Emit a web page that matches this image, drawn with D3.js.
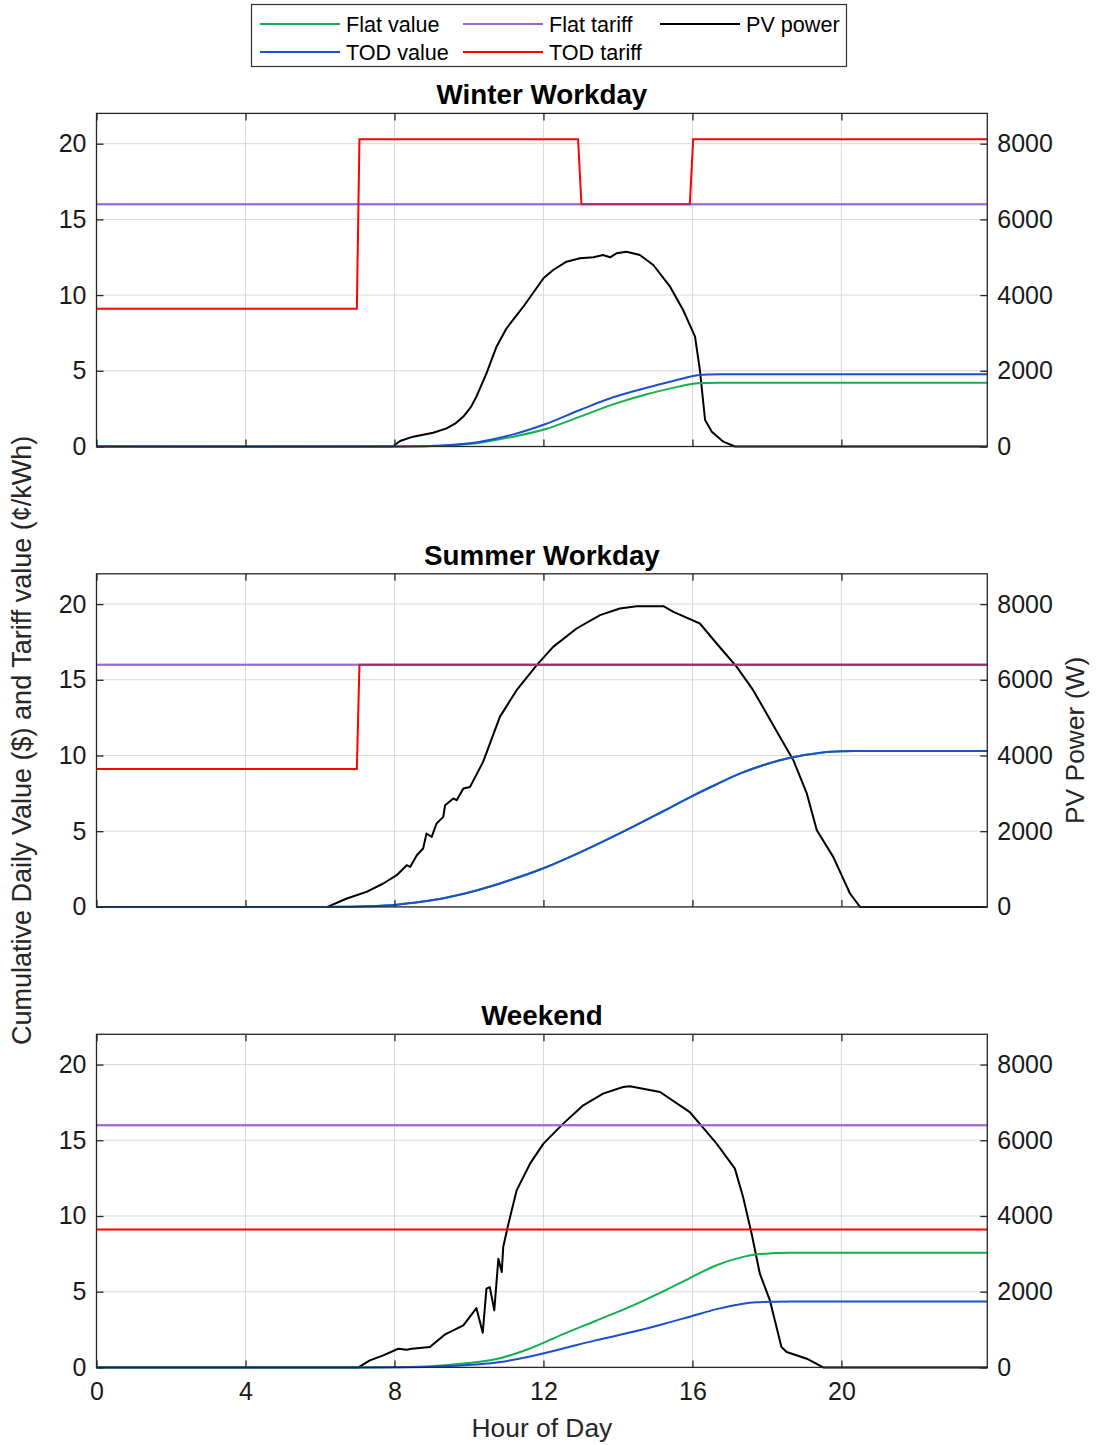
<!DOCTYPE html>
<html>
<head>
<meta charset="utf-8">
<script src="https://cdn.jsdelivr.net/npm/d3@7"></script>
<style>
  html, body { margin: 0; padding: 0; background: #fff; }
  svg { display: block; font-family: "Liberation Sans", Arial, Helvetica, sans-serif; }
</style>
</head>
<body>
<svg id="chart" width="1097" height="1445"></svg>
<script>
// ---- data: hour of day vs. value ----
const xTicks = [0, 4, 8, 12, 16, 20];
const yTicks = [0, 5, 10, 15, 20];
const pvTicks = [0, 2000, 4000, 6000, 8000];
const panelTitles = ["Winter Workday", "Summer Workday", "Weekend"];
const dayEnd = 23.917;

// flat tariff (¢/kWh), same every day type
const flatTariff = [[0, 16], [23.917, 16]];

// Winter workday
const winterPV = [[0,0],[7.95,0],[8.15,145],[8.5,260],[9.04,365],[9.4,480],[9.65,620],[9.85,790],[10.05,1040],
  [10.2,1315],[10.47,1934],[10.74,2636],[11.01,3123],[11.46,3693],[12.0,4444],[12.26,4663],[12.62,4883],
  [12.98,4972],[13.34,4998],[13.6,5059],[13.79,4998],[13.96,5104],[14.23,5147],[14.59,5059],[14.95,4795],
  [15.4,4222],[15.75,3606],[16.07,2901],[16.2,2021],[16.34,700],[16.52,391],[16.83,127],[17.14,0],[23.917,0]];
const winterFlatValue = [[0,0],[8,0],[9,0.03],[9.5,0.08],[10.3,0.25],[11.19,0.65],[12.04,1.14],[12.98,1.97],
  [13.87,2.78],[14.77,3.45],[15.66,3.97],[16.02,4.15],[16.4,4.2],[17,4.21],[23.917,4.21]];
const winterTodValue = [[0,0],[8,0],[9,0.04],[9.5,0.1],[10.3,0.32],[11.19,0.8],[12.04,1.47],[12.98,2.41],
  [13.87,3.25],[14.77,3.88],[15.66,4.44],[16.02,4.66],[16.4,4.75],[17,4.77],[23.917,4.77]];
const winterTodTariff = [[0,9.1],[6.99,9.1],[7.06,20.3],[12.93,20.3],[13.02,16],[15.93,16],[16.02,20.3],[23.917,20.3]];

// Summer workday
const summerPV = [[0,0],[6.2,0],[6.72,222],[7.25,396],[7.7,618],[8.06,838],[8.33,1102],[8.42,1057],[8.6,1366],
  [8.77,1543],[8.86,1939],[9.0,1850],[9.13,2203],[9.31,2378],[9.36,2687],[9.58,2864],[9.67,2819],[9.85,3128],
  [10.03,3170],[10.38,3831],[10.83,5020],[11.28,5725],[11.82,6386],[12.26,6869],[12.89,7355],[13.52,7707],
  [14.05,7883],[14.5,7944],[15.22,7944],[15.49,7794],[16.2,7487],[16.65,6959],[17.19,6341],[17.63,5725],
  [17.99,5110],[18.35,4491],[18.71,3876],[19.07,2996],[19.34,2026],[19.78,1321],[20.23,354],[20.5,0],[23.917,0]];
const summerFlatValue = [[0,0],[6.2,0],[6.7,0.01],[7.25,0.04],[8.06,0.15],[9.04,0.45],[9.94,0.92],[10.83,1.55],
  [12.0,2.55],[13.07,3.7],[14.41,5.3],[15.2,6.3],[16.02,7.35],[16.65,8.1],[17.27,8.8],[18.0,9.44],[18.6,9.84],
  [19.5,10.2],[20.05,10.28],[20.5,10.29],[23.917,10.29]];
const summerTodValue = [[0,0],[6.2,0],[6.7,0.01],[7.25,0.04],[8.06,0.15],[9.04,0.45],[9.94,0.92],[10.83,1.55],
  [12.0,2.55],[13.07,3.7],[14.41,5.3],[15.2,6.3],[16.02,7.35],[16.65,8.1],[17.27,8.8],[18.0,9.44],[18.6,9.84],
  [19.5,10.2],[20.05,10.28],[20.5,10.29],[23.917,10.29]];
const summerTodTariff = [[0,9.1],[6.99,9.1],[7.06,16],[23.917,16]];

// Weekend
const weekendPV = [[0,0],[7.03,0],[7.34,185],[7.7,317],[8.1,493],[8.33,467],[8.46,493],[8.95,537],[9.36,872],
  [9.85,1110],[10.2,1567],[10.37,916],[10.47,2079],[10.56,2122],[10.68,1506],[10.79,2872],[10.88,2518],
  [10.92,3179],[11.06,3797],[11.28,4677],[11.64,5382],[12.0,5911],[12.53,6440],[13.07,6924],[13.6,7233],
  [14.14,7409],[14.32,7425],[15.13,7275],[15.93,6746],[16.65,5911],[17.14,5251],[17.36,4500],[17.59,3532],
  [17.81,2476],[18.08,1770],[18.39,537],[18.53,405],[19.07,229],[19.51,0],[23.917,0]];
const weekendFlatValue = [[0,0],[7.5,0],[8.06,0.01],[9,0.08],[9.85,0.25],[10.74,0.55],[11.64,1.25],[12.53,2.2],
  [13.43,3.1],[14.41,4.1],[15.2,5.0],[15.93,5.9],[16.65,6.75],[17.36,7.3],[17.71,7.45],[18.25,7.55],[18.8,7.57],[23.917,7.57]];
const weekendTodValue = [[0,0],[7.03,0],[8.06,0.01],[9,0.05],[9.85,0.14],[10.74,0.32],[11.64,0.72],[12.53,1.25],
  [13.43,1.8],[14.41,2.35],[15.2,2.85],[15.93,3.35],[16.65,3.85],[17.36,4.2],[17.71,4.3],[18.25,4.34],[18.8,4.35],[23.917,4.35]];
const weekendTodTariff = [[0,9.1],[23.917,9.1]];

const panels = [
  { title: panelTitles[0], pv: winterPV, flatValue: winterFlatValue, todValue: winterTodValue, todTariff: winterTodTariff },
  { title: panelTitles[1], pv: summerPV, flatValue: summerFlatValue, todValue: summerTodValue, todTariff: summerTodTariff },
  { title: panelTitles[2], pv: weekendPV, flatValue: weekendFlatValue, todValue: weekendTodValue, todTariff: weekendTodTariff }
];

const colors = {
  flatValue: "#12b04e",
  todValue: "#1b4fcf",
  flatTariff: "#9a66d8",
  todTariff: "#ff0000",
  pv: "#000000"
};

// ---- layout ----
const svg = d3.select("#chart");
const left = 96.5, right = 987.3;
const panelTops = [113.4, 573.8, 1034.3];
const panelH = 333.1;
const tickFont = 25, titleFont = 27.8, labelFont = 26.4, yLabelFont = 27, legendFont = 21.6;
const axisColor = "#262626";

const x = d3.scaleLinear().domain([0, dayEnd]).range([left, right]);

panels.forEach((p, i) => {
  const top = panelTops[i], bottom = top + panelH;
  const yL = d3.scaleLinear().domain([0, 22]).range([bottom, top]);
  const yR = d3.scaleLinear().domain([0, 8800]).range([bottom, top]);
  const g = svg.append("g");

  // grid
  g.append("g").selectAll("line").data(xTicks).join("line")
    .attr("x1", d => x(d)).attr("x2", d => x(d)).attr("y1", top).attr("y2", bottom)
    .attr("stroke", "#d9d9d9").attr("stroke-width", 1);
  g.append("g").selectAll("line").data(yTicks).join("line")
    .attr("x1", left).attr("x2", right).attr("y1", d => yL(d)).attr("y2", d => yL(d))
    .attr("stroke", "#d9d9d9").attr("stroke-width", 1);

  // PV power on the right axis
  const linePV = d3.line().x(d => x(d[0])).y(d => yR(d[1]));
  g.append("path").datum(p.pv).attr("d", linePV)
    .attr("fill", "none").attr("stroke", colors.pv).attr("stroke-width", 2).attr("stroke-linejoin", "round");

  // cumulative values and tariffs on the left axis
  const smooth = d3.line().x(d => x(d[0])).y(d => yL(d[1])).curve(d3.curveCatmullRom.alpha(0.5));
  const step = d3.line().x(d => x(d[0])).y(d => yL(d[1]));
  g.append("path").datum(p.flatValue).attr("d", smooth)
    .attr("fill", "none").attr("stroke", colors.flatValue).attr("stroke-width", 2);
  g.append("path").datum(p.todValue).attr("d", smooth)
    .attr("fill", "none").attr("stroke", colors.todValue).attr("stroke-width", 2);

  // tariffs: where the two coincide the strokes blend to a dark magenta
  const tg = g.append("g").style("isolation", "isolate");
  tg.append("path").datum(flatTariff).attr("d", step)
    .attr("fill", "none").attr("stroke", colors.flatTariff).attr("stroke-width", 2);
  tg.append("path").datum(p.todTariff).attr("d", step)
    .attr("fill", "none").attr("stroke", colors.todTariff).attr("stroke-width", 2)
    .style("mix-blend-mode", "multiply");
  tg.append("path").datum(flatTariff).attr("d", step)
    .attr("fill", "none").attr("stroke", colors.flatTariff).attr("stroke-width", 2)
    .attr("stroke-opacity", 0.5);

  // box
  g.append("rect").attr("x", left).attr("y", top).attr("width", right - left).attr("height", panelH)
    .attr("fill", "none").attr("stroke", axisColor).attr("stroke-width", 1.3);

  // left axis (ticks inside)
  const axL = d3.axisLeft(yL).tickValues(yTicks).tickSize(-7).tickPadding(10).tickFormat(d3.format("d"));
  const gl = g.append("g").attr("transform", `translate(${left},0)`).call(axL);
  // right axis (ticks inside)
  const axR = d3.axisRight(yR).tickValues(pvTicks).tickSize(-7).tickPadding(10).tickFormat(d3.format("d"));
  const gr = g.append("g").attr("transform", `translate(${right},0)`).call(axR);
  // bottom and top x ticks (inside)
  const axB = d3.axisBottom(x).tickValues(xTicks).tickSize(-7).tickPadding(15)
    .tickFormat(i === panels.length - 1 ? d3.format("d") : () => "");
  const gb = g.append("g").attr("transform", `translate(0,${bottom})`).call(axB);
  const axT = d3.axisTop(x).tickValues(xTicks).tickSize(-7).tickFormat(() => "");
  const gt = g.append("g").attr("transform", `translate(0,${top})`).call(axT);

  [gl, gr, gb, gt].forEach(a => {
    a.select(".domain").remove();
    a.selectAll(".tick line").attr("stroke", axisColor).attr("stroke-width", 1.3);
    a.selectAll(".tick text").attr("fill", "#1a1a1a").style("font-size", tickFont + "px")
      .style("font-family", "'Liberation Sans', Arial, sans-serif");
  });

  // title
  g.append("text").attr("x", (left + right) / 2).attr("y", top - 9)
    .attr("text-anchor", "middle").style("font-size", titleFont + "px").style("font-weight", "bold")
    .attr("fill", "#000").text(p.title);
});

// axis labels
svg.append("text").attr("transform", `translate(31,${(panelTops[0] + panelTops[2] + panelH) / 2}) rotate(-90)`)
  .attr("text-anchor", "middle").style("font-size", yLabelFont + "px").attr("fill", "#262626")
  .text("Cumulative Daily Value ($) and Tariff value (¢/kWh)");
svg.append("text").attr("transform", `translate(1084,${(panelTops[0] + panelTops[2] + panelH) / 2}) rotate(-90)`)
  .attr("text-anchor", "middle").style("font-size", labelFont + "px").attr("fill", "#262626")
  .text("PV Power (W)");
svg.append("text").attr("x", (left + right) / 2).attr("y", 1437)
  .attr("text-anchor", "middle").style("font-size", labelFont + "px").attr("fill", "#262626")
  .text("Hour of Day");

// legend
const legendItems = [
  { label: "Flat value", color: colors.flatValue, col: 0, row: 0 },
  { label: "TOD value", color: colors.todValue, col: 0, row: 1 },
  { label: "Flat tariff", color: colors.flatTariff, col: 1, row: 0 },
  { label: "TOD tariff", color: colors.todTariff, col: 1, row: 1 },
  { label: "PV power", color: colors.pv, col: 2, row: 0 }
];
const legColX = [260, 463, 660], legRowY = [24, 52];
const lg = svg.append("g");
lg.append("rect").attr("x", 251.5).attr("y", 4.5).attr("width", 595).attr("height", 62)
  .attr("fill", "#fff").attr("stroke", "#333").attr("stroke-width", 1.2);
legendItems.forEach(it => {
  const lx = legColX[it.col], ly = legRowY[it.row];
  lg.append("line").attr("x1", lx).attr("x2", lx + 80).attr("y1", ly).attr("y2", ly)
    .attr("stroke", it.color).attr("stroke-width", 2);
  lg.append("text").attr("x", lx + 86).attr("y", ly).attr("dy", "0.36em")
    .style("font-size", legendFont + "px").attr("fill", "#000").text(it.label);
});
</script>
</body>
</html>
